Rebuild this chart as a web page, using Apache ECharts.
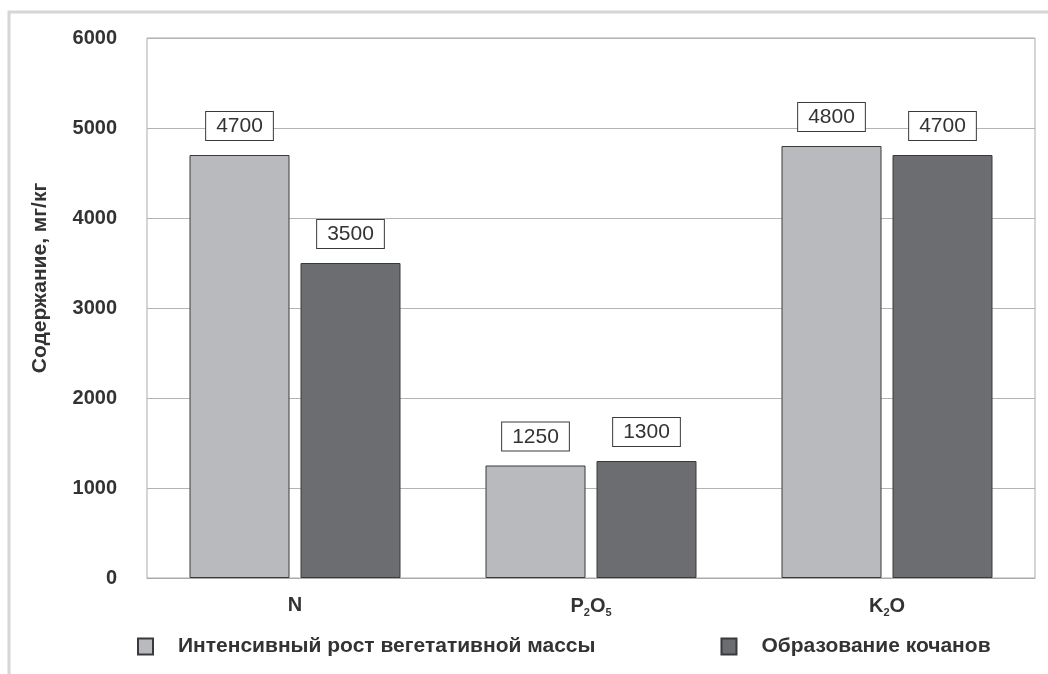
<!DOCTYPE html>
<html>
<head>
<meta charset="utf-8">
<script src="https://cdn.jsdelivr.net/npm/echarts@6/dist/echarts.min.js"></script>
<style>
  html, body { margin: 0; padding: 0; background: #ffffff; }
  #chart { width: 1048px; height: 674px; }
</style>
</head>
<body>
<div id="chart"></div>
<script>
// Nutrient content by growth phase
const categories = ['N', 'P{s|2}O{s|5}', 'K{s|2}O'];
const seriesNames = ['Интенсивный рост вегетативной массы', 'Образование кочанов'];
const vegetativeGrowth = [4700, 1250, 4800];
const headFormation = [3500, 1300, 4700];
const yAxisTitle = 'Содержание, мг/кг';

const FONT = "'Liberation Sans', Arial, sans-serif";
const TEXT = '#333333';

const valueLabel = {
  show: true,
  position: 'top',
  distance: 15,
  color: TEXT,
  fontFamily: FONT,
  fontSize: 21,
  lineHeight: 21,
  backgroundColor: '#ffffff',
  borderColor: '#3a3a3a',
  borderWidth: 1,
  padding: [4, 10, 3, 10]
};

const chart = echarts.init(document.getElementById('chart'), null, { renderer: 'canvas' });

chart.setOption({
  backgroundColor: '#ffffff',
  animation: false,
  textStyle: { fontFamily: FONT },
  graphic: [
    {
      type: 'rect',
      shape: { x: 9, y: 12, width: 1100, height: 700 },
      style: { fill: 'none', stroke: '#d6d6d6', lineWidth: 3 },
      silent: true
    },
    {
      type: 'text',
      x: 40,
      y: 278,
      rotation: Math.PI / 2,
      style: {
        text: yAxisTitle,
        fill: TEXT,
        font: 'bold 21px ' + FONT,
        align: 'center',
        verticalAlign: 'middle'
      }
    }
  ],
  legend: {
    left: 137,
    top: 636,
    padding: 0,
    itemWidth: 15,
    itemHeight: 16,
    itemGap: 125,
    icon: 'rect',
    textStyle: {
      color: TEXT,
      fontFamily: FONT,
      fontSize: 21,
      fontWeight: 'bold',
      padding: [0, 0, 0, 20]
    },
    data: seriesNames
  },
  grid: {
    left: 147,
    right: 13,
    top: 38,
    bottom: 96,
    show: true,
    borderColor: '#ababab',
    borderWidth: 1
  },
  xAxis: {
    type: 'category',
    data: categories,
    axisLine: { show: true, lineStyle: { color: '#ababab', width: 1 } },
    axisTick: { show: false },
    axisLabel: {
      margin: 17,
      color: TEXT,
      fontFamily: FONT,
      fontSize: 20,
      fontWeight: 'bold',
      rich: {
        s: {
          fontSize: 11,
          fontWeight: 'bold',
          color: TEXT,
          fontFamily: FONT,
          verticalAlign: 'bottom',
          padding: [12, 0, 0, 0]
        }
      }
    }
  },
  yAxis: {
    type: 'value',
    min: 0,
    max: 6000,
    interval: 1000,
    axisLine: { show: false },
    axisTick: { show: false },
    splitLine: { lineStyle: { color: '#b4b4b4', width: 1 } },
    axisLabel: {
      margin: 30,
      color: TEXT,
      fontFamily: FONT,
      fontSize: 20,
      fontWeight: 'bold',
      formatter: function (v) { return String(v); }
    }
  },
  series: [
    {
      name: seriesNames[0],
      type: 'bar',
      data: vegetativeGrowth,
      barWidth: 100,
      barGap: '11%',
      itemStyle: { color: '#b9babe', borderColor: '#3a3a3a', borderWidth: 1 },
      label: valueLabel
    },
    {
      name: seriesNames[1],
      type: 'bar',
      data: headFormation,
      barWidth: 100,
      itemStyle: { color: '#6c6d71', borderColor: '#3a3a3a', borderWidth: 1 },
      label: valueLabel
    }
  ]
});
</script>
</body>
</html>
